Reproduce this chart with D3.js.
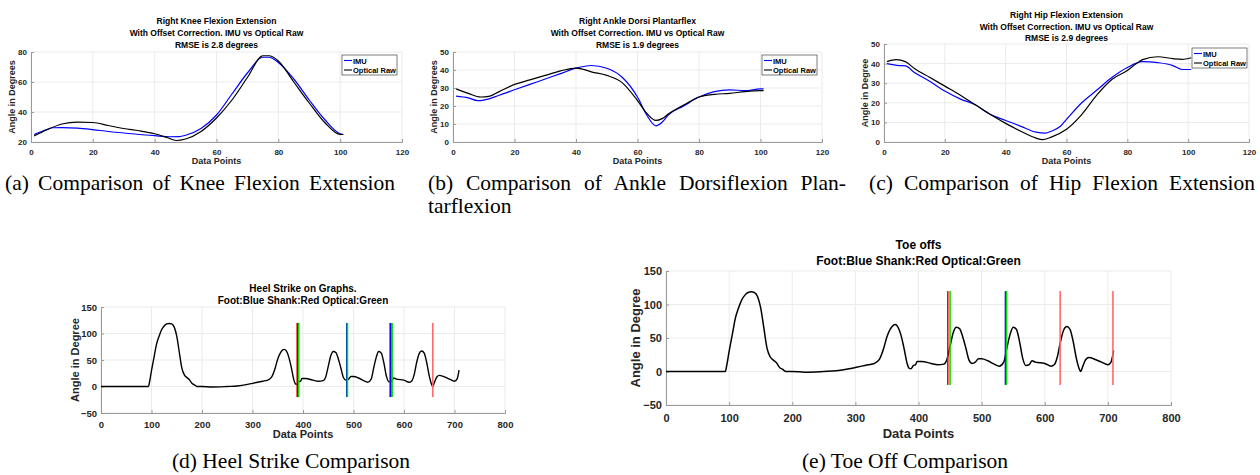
<!DOCTYPE html>
<html>
<head>
<meta charset="utf-8">
<script src="https://cdn.jsdelivr.net/npm/d3@7"></script>
<style>
  body { margin: 0; background: #fff; }
  svg { display: block; }
  text { font-family: "Liberation Sans", Arial, sans-serif; fill: #262626; }
  .cap { font-family: "Liberation Serif", "Times New Roman", serif; fill: #000; }
</style>
</head>
<body>
<div id="chart"></div>
<script>
// ---- data ----
var kneeImu = [[1,25],[4,27.5],[7,29.5],[10,29.6],[15,29.3],[20,28.3],[25,27],[30,26],[35,25],[40,24.2],[45,23.5],[48,23.6],[50,24.5],[55,29],[60,38],[65,52],[70,66],[75,76.5],[77,76.5],[80,73],[85,62],[90,48],[95,35],[100,25.5],[101,25]];
var kneeOpt = [[1,24],[5,28],[10,32],[15,33.3],[20,33],[25,31],[30,29],[35,27.5],[40,25.5],[44,23],[47,21],[50,22],[55,27],[60,36],[65,48],[70,63],[75,77.5],[77,77.5],[80,74],[85,60],[90,46],[95,33],[100,25],[101,25]];

var ankleImu = [[1,25.5],[5,24.5],[8,23],[10,23.3],[15,26],[20,29],[25,32],[30,35],[35,38],[40,41],[45,42.5],[50,41],[55,36],[60,25],[63,15],[66,9],[68,11],[70,15],[75,20],[80,25],[85,28],[90,29],[95,28.5],[100,29.5],[101,29.5]];
var ankleOpt = [[1,29.5],[5,27],[9,25],[12,25.5],[15,28],[20,32],[25,34.5],[30,37],[35,39.5],[40,41],[42,40.5],[45,39],[50,37],[55,33],[60,23],[63,16],[66,12],[68,13],[70,15.5],[75,20.5],[80,25],[85,26.5],[90,27],[95,28],[100,28.5],[101,28.5]];

var hipImu = [[1,40],[5,39],[7,38.8],[10,35.5],[15,31],[20,26],[25,22],[30,19],[35,14],[40,11],[45,8],[50,5],[53,4.5],[55,5.5],[58,8],[60,11.5],[65,20],[70,26.5],[75,33],[80,38],[85,41],[90,40.5],[95,39],[98,37],[101,37]];
var hipOpt = [[1,41],[4,42],[7,41],[10,37.5],[15,33],[20,28.5],[25,24],[30,19],[35,14],[40,9.5],[45,5.5],[50,2],[52,1.2],[55,2.5],[60,6.5],[65,14],[70,24],[75,32],[80,36.5],[83,40],[85,42],[90,43.5],[95,42.5],[98,42.2],[101,43]];

var footAngle = [[0,0],[94,0],[96,8],[100,30],[105,55],[110,80],[115,95],[120,107],[125,114],[130,118],[135,119],[140,118],[145,112],[150,95],[155,65],[160,35],[165,22],[170,17],[175,13],[180,6],[185,3],[190,0],[200,0],[220,-1],[250,0],[270,1],[290,4],[300,6],[310,8],[320,10],[330,12],[338,18],[345,35],[350,52],[355,63],[360,69],[363,70],[367,67],[372,55],[377,35],[382,12],[385,5],[388,4],[392,9],[395,10],[398,15],[405,15],[420,12],[430,10],[440,11],[445,18],[450,38],[455,58],[460,66],[465,64],[470,52],[475,35],[480,17],[485,12],[490,14],[495,19],[500,19],[510,16],[520,11],[528,8],[535,14],[540,35],[545,55],[550,66],[555,63],[560,45],[565,20],[570,9],[575,10],[580,16],[585,14],[600,12],[610,8],[615,10],[620,22],[625,45],[630,62],[635,67],[640,63],[645,45],[650,20],[655,3],[657,0],[660,7],[665,18],[670,21],[680,18],[690,14],[700,10],[705,14],[709,31]];

var heelMarks = [[388.5,"shank"],[390,"foot"],[391.5,"optical"],[486.8,"foot"],[488,"optical"],[572.5,"shank"],[574,"foot"],[576.5,"optical"],[657,"shankSolo"]];
var toeMarks = [[446.4,"shank"],[450,"optical"],[537.8,"foot"],[539.4,"optical"],[624.4,"shankSolo"],[708,"shankSolo"]];
var markSpan = [-20, 120];

var pctTicks = [0, 20, 40, 60, 80, 100, 120];
var kneeTicks = [20, 40, 60, 80];
var degTicks = [0, 10, 20, 30, 40, 50];
var strideTicks = [0, 100, 200, 300, 400, 500, 600, 700, 800];
var strideYTicks = [-50, 0, 50, 100, 150];

var markColor = { shank: "#ff0000", foot: "#0000ff", optical: "#00e000", shankSolo: "#ff6a6a" };

var svg = d3.select("#chart").append("svg")
  .attr("width", 1260).attr("height", 475);

function panel(o) {
  var x = d3.scaleLinear().domain(o.xd).range([o.l, o.r]);
  var y = d3.scaleLinear().domain(o.yd).range([o.b, o.t]);
  var g = svg.append("g");

  // grid
  g.selectAll(".gx").data(o.xt).enter().append("line")
    .attr("x1", d => x(d)).attr("x2", d => x(d)).attr("y1", o.t).attr("y2", o.b)
    .style("stroke", "#ebebeb").style("stroke-width", 1);
  g.selectAll(".gy").data(o.yt).enter().append("line")
    .attr("x1", o.l).attr("x2", o.r).attr("y1", d => y(d)).attr("y2", d => y(d))
    .style("stroke", "#ebebeb").style("stroke-width", 1);

  // axes (ticks inside, like matlab)
  var ax = g.append("g").attr("transform", "translate(0," + o.b + ")")
    .call(d3.axisBottom(x).tickValues(o.xt).tickSize(-3).tickPadding(o.fs * 0.6 + 3));
  var ay = g.append("g").attr("transform", "translate(" + o.l + ",0)")
    .call(d3.axisLeft(y).tickValues(o.yt).tickSize(-3).tickPadding(4));
  [ax, ay].forEach(function(a) {
    a.select(".domain").style("stroke", "#9a9a9a");
    a.selectAll(".tick line").style("stroke", "#9a9a9a");
    a.selectAll("text").style("font-size", o.fs + "px").style("font-weight", "bold").style("fill", "#262626");
  });

  var line = d3.line().x(d => x(d[0])).y(d => y(d[1])).curve(d3.curveMonotoneX);
  o.series.forEach(function(s) {
    g.append("path").datum(s.data).attr("d", line)
      .style("fill", "none").style("stroke", s.color).style("stroke-width", s.w || 1.2);
  });

  (o.marks || []).forEach(function(m) {
    g.append("line")
      .attr("x1", x(m[0])).attr("x2", x(m[0]))
      .attr("y1", y(markSpan[0])).attr("y2", y(markSpan[1]))
      .style("stroke", markColor[m[1]]).style("stroke-width", 1.6);
  });

  // titles
  o.title.forEach(function(t, i) {
    g.append("text").attr("x", (o.l + o.r) / 2).attr("y", o.ty + i * o.tdy)
      .attr("text-anchor", "middle").style("font-size", o.tfs + "px").style("font-weight", "bold")
      .style("fill", "#000").text(t);
  });
  g.append("text").attr("x", (o.l + o.r) / 2).attr("y", o.xly)
    .attr("text-anchor", "middle").style("font-size", o.lfs + "px").style("font-weight", "bold")
    .text("Data Points");
  g.append("text").attr("transform", "translate(" + o.ylx + "," + ((o.t + o.b) / 2) + ") rotate(-90)")
    .attr("text-anchor", "middle").style("font-size", o.lfs + "px").style("font-weight", "bold")
    .text(o.ylab);

  // legend
  if (o.leg) {
    var lg = g.append("g").attr("transform", "translate(" + o.leg[0] + "," + o.leg[1] + ")");
    lg.append("rect").attr("width", 55).attr("height", 20)
      .style("fill", "#fff").style("stroke", "#262626").style("stroke-width", 0.6);
    o.series.forEach(function(s, i) {
      lg.append("line").attr("x1", 2).attr("x2", 10).attr("y1", 5.5 + i * 9.5).attr("y2", 5.5 + i * 9.5)
        .style("stroke", s.color).style("stroke-width", 1.1);
      lg.append("text").attr("x", 11).attr("y", 8.5 + i * 9.5)
        .style("font-size", "7.5px").style("font-weight", "bold").style("fill", "#000").text(s.name);
    });
  }
}

panel({ l: 31, r: 402, t: 52, b: 142, xd: [0, 120], yd: [20, 80], xt: pctTicks, yt: kneeTicks, fs: 8,
  title: ["Right Knee Flexion Extension", "With Offset Correction. IMU vs Optical Raw", "RMSE is 2.8 degrees"],
  ty: 24, tdy: 12, tfs: 8.5, xly: 164, ylx: 15, lfs: 9, ylab: "Angle in Degrees", leg: [342, 55],
  series: [{ name: "IMU", data: kneeImu, color: "#0000ff" }, { name: "Optical Raw", data: kneeOpt, color: "#000" }] });

panel({ l: 453, r: 822, t: 52, b: 142, xd: [0, 120], yd: [0, 50], xt: pctTicks, yt: degTicks, fs: 8,
  title: ["Right Ankle Dorsi Plantarflex", "With Offset Correction. IMU vs Optical Raw", "RMSE is 1.9 degrees"],
  ty: 24, tdy: 12, tfs: 8.5, xly: 164, ylx: 437, lfs: 9, ylab: "Angle in Degrees", leg: [762, 55],
  series: [{ name: "IMU", data: ankleImu, color: "#0000ff" }, { name: "Optical Raw", data: ankleOpt, color: "#000" }] });

panel({ l: 884, r: 1249, t: 44, b: 142, xd: [0, 120], yd: [0, 50], xt: pctTicks, yt: degTicks, fs: 8,
  title: ["Right Hip Flexion Extension", "With Offset Correction. IMU vs Optical Raw", "RMSE is 2.9 degrees"],
  ty: 18, tdy: 11.5, tfs: 8.5, xly: 164, ylx: 868, lfs: 9, ylab: "Angle in Degree", leg: [1192, 48],
  series: [{ name: "IMU", data: hipImu, color: "#0000ff" }, { name: "Optical Raw", data: hipOpt, color: "#000" }] });

panel({ l: 101, r: 505, t: 307, b: 413, xd: [0, 800], yd: [-50, 150], xt: strideTicks, yt: strideYTicks, fs: 9.5,
  title: ["Heel Strike on Graphs.", "Foot:Blue Shank:Red Optical:Green"],
  ty: 292, tdy: 12, tfs: 10, xly: 438, ylx: 79, lfs: 11, ylab: "Angle in Degree",
  series: [{ data: footAngle, color: "#000", w: 1.4 }], marks: heelMarks });

panel({ l: 666, r: 1171, t: 271, b: 405, xd: [0, 800], yd: [-50, 150], xt: strideTicks, yt: strideYTicks, fs: 11,
  title: ["Toe offs", "Foot:Blue Shank:Red Optical:Green"],
  ty: 249, tdy: 16, tfs: 12, xly: 438, ylx: 640, lfs: 13, ylab: "Angle in Degree",
  series: [{ data: footAngle, color: "#000", w: 1.5 }], marks: toeMarks });

// captions (serif); first row justified to its column width by word spacing
var caps = [
  ["(a) Comparison of Knee Flexion Extension", 5, 190, 390, "start"],
  ["(b) Comparison of Ankle Dorsiflexion Plan-", 428, 190, 418, "start"],
  ["tarflexion", 428, 213, 0, "start"],
  ["(c) Comparison of Hip Flexion Extension", 869, 190, 386, "start"],
  ["(d) Heel Strike Comparison", 291, 468, 0, "middle"],
  ["(e) Toe Off Comparison", 905, 468, 0, "middle"]
];
caps.forEach(function(c) {
  var t = svg.append("text").attr("class", "cap").attr("x", c[1]).attr("y", c[2])
    .attr("text-anchor", c[4]).style("font-size", "21.5px").text(c[0]);
  if (c[3]) {
    var gaps = c[0].split(" ").length - 1;
    var extra = (c[3] - t.node().getComputedTextLength()) / gaps;
    t.style("word-spacing", extra + "px");
  }
});
</script>
</body>
</html>
